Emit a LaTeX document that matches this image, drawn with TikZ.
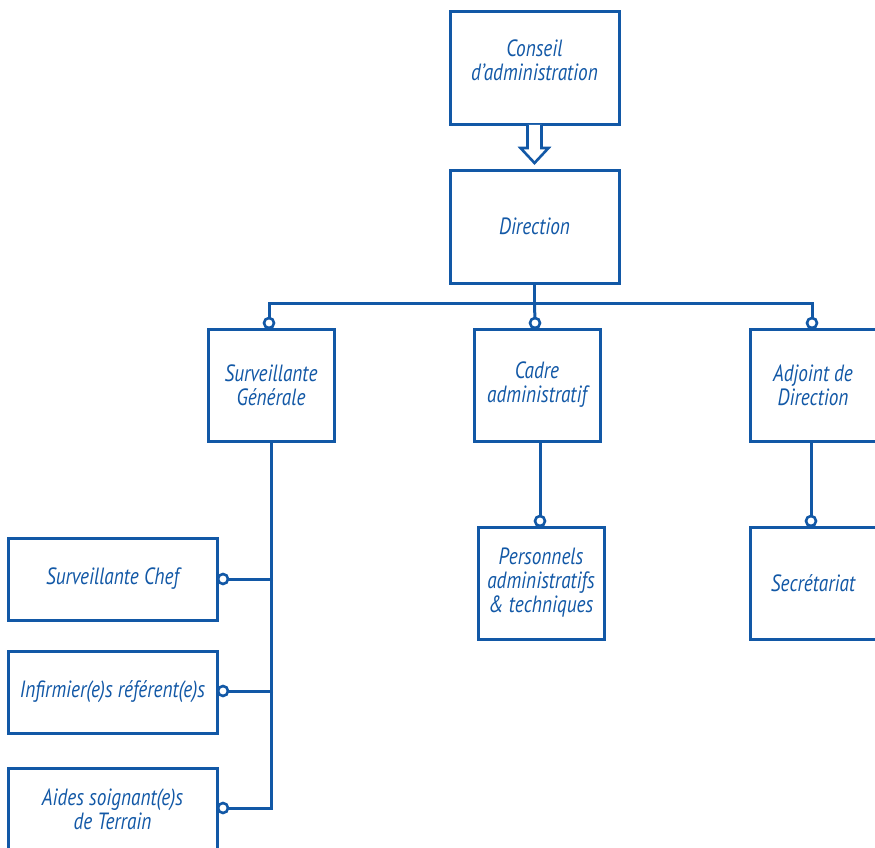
\documentclass[tikz,border=0pt]{standalone}
\usepackage{fontspec}
\newfontfamily\orgfont{PT Sans}[FakeStretch=0.82]
\usetikzlibrary{calc}
\definecolor{orgblue}{RGB}{18,88,166}
\begin{document}
\begin{tikzpicture}[x=1pt,y=-1pt,
  txt/.style={text=orgblue,align=center,font=\orgfont\itshape\fontsize{23.5}{24}\selectfont},
  box/.style={txt,draw=orgblue,line width=3pt,rectangle,outer sep=0pt,inner sep=2pt},
  link/.style={draw=orgblue,line width=3pt},
  knob/.style={draw=orgblue,line width=2.6pt,fill=white}]
\useasboundingbox (0,0) rectangle (875,848);
% boxes
\node[box,minimum width=169,minimum height=113] (conseil) at (534.5,68.5) {};
\node[txt] (conseilt) at (534.5,60) {Conseil\\d’administration};
\node[box,minimum width=169,minimum height=113] (direction) at (534.5,226.5) {Direction};
\node[box,minimum width=126,minimum height=112] (sg) at (271,385) {Surveillante\\Générale};
\node[box,minimum width=126,minimum height=112] (ca) at (537,385) {Cadre\\administratif};
\node[box,minimum width=126,minimum height=112] (ad) at (813,385) {Adjoint de\\Direction};
\node[box,minimum width=126,minimum height=112] (pers) at (541,583) {Personnels\\administratifs\\\& techniques};
\node[box,minimum width=126,minimum height=112] (sec) at (813,583) {Secrétariat};
\node[box,minimum width=209,minimum height=82] (sc) at (112.5,579) {Surveillante Chef};
\node[box,minimum width=209,minimum height=82] (inf) at (112.5,692) {Infirmier(e)s référent(e)s};
\node[box,minimum width=209,minimum height=82] (aides) at (112.5,809) {Aides soignant(e)s\\de Terrain};
% hollow arrow
\draw[orgblue,line width=2.6pt,fill=white,line join=miter]
  ($(conseil.south)+(-7,0)$) -- ++(0,23) -- ++(-7,0) -- ($(direction.north)+(0,-7)$)
  -- ($(conseil.south)+(14,23)$) -- ++(-7,0) -- ($(conseil.south)+(7,0)$);
% top bus
\coordinate (bus) at ($(direction.south)+(0,20)$);
\coordinate (busL) at (269,303);
\coordinate (busR) at (812,303);
\coordinate (k1) at ($(sg.north)+(-2,-6)$);
\coordinate (k2) at ($(direction.south)+(0.5,40)$);
\coordinate (k3) at ($(ad.north)+(-1,-6)$);
\draw[link] (direction.south) -- (bus);
\draw[link] (k1) |- (busL) -- (busR) -- (k3);
\draw[link] (bus) -- (k2);
% surveillante branch
\coordinate (sgb) at (271,808);
\draw[link] (sg.south) -- (sgb) -- ($(aides.east)+(6,-1)$);
\draw[link] (273,579) -- ($(sc.east)+(6,0)$);
\draw[link] (273,691) -- ($(inf.east)+(6,-1)$);
% cadre branch
\draw[link] ($(ca.south)+(3,0)$) -- ($(pers.north)+(-1,-6)$);
% adjoint branch
\draw[link] ($(ad.south)+(-2,0)$) -- ($(sec.north)+(-2,-6)$);
% knobs
\draw[knob] (k1) circle (5);
\draw[knob] (k2) circle (5);
\draw[knob] (k3) circle (5);
\draw[knob] ($(pers.north)+(-1,-6)$) circle (5);
\draw[knob] ($(sec.north)+(-2,-6)$) circle (5);
\draw[knob] ($(sc.east)+(6,0)$) circle (5);
\draw[knob] ($(inf.east)+(6,-1)$) circle (5);
\draw[knob] ($(aides.east)+(6,-1)$) circle (5);
\end{tikzpicture}
\end{document}
